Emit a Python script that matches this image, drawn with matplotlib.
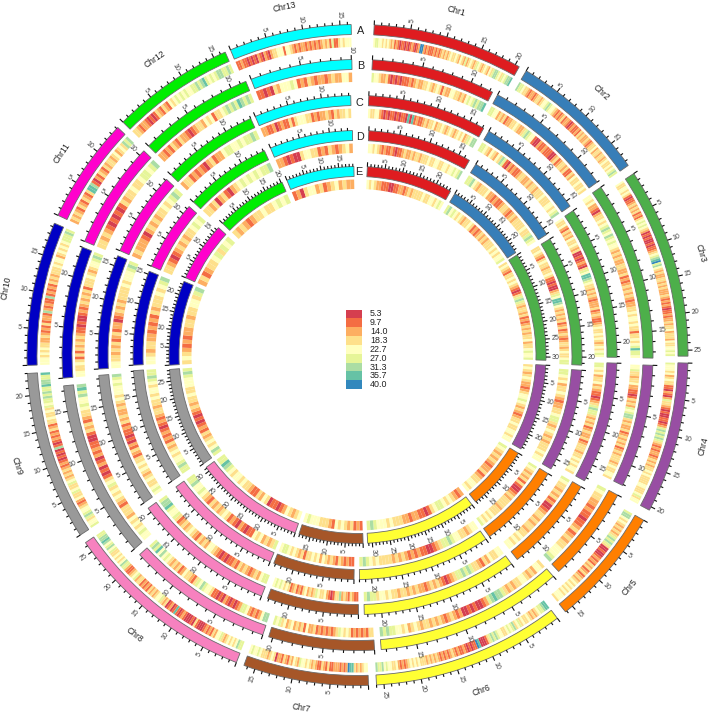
import numpy as np
import matplotlib
matplotlib.use('Agg')
import matplotlib.pyplot as plt
from matplotlib.patches import Rectangle

plt.rcParams['font.family'] = ['Liberation Sans', 'DejaVu Sans']

W, H = 709, 714
CX, CY = 357.5, 355.0
RMAX = 355.0

chroms = ['Chr1', 'Chr2', 'Chr3', 'Chr4', 'Chr5', 'Chr6', 'Chr7', 'Chr8', 'Chr9', 'Chr10', 'Chr11', 'Chr12', 'Chr13']
chrom_colors = ['#df1c20', '#377eb8', '#4daf4a', '#984ea3', '#ff7f00', '#ffff33', '#a65628', '#f781bf',
                '#999999', '#0000c4', '#ff00cc', '#00ee00', '#00ffff']
legend_labels = ['5.3', '9.7', '14.0', '18.3', '22.7', '27.0', '31.3', '35.7', '40.0']
heat_colors = ['#d53e4f', '#f46d43', '#fdae61', '#fee08b', '#ffffbf', '#e6f598', '#abdda4', '#66c2a5', '#3288bd']
ring_names = ['A', 'B', 'C', 'D', 'E']

# chromosome lengths in Mb, one list per ring
len_A = [20.6, 18.7, 25.8, 20.5, 16.2, 26.0, 16.5, 26.5, 23.0, 19.5, 14.2, 16.7, 16.5]
len_B = [12.3, 13.0, 17.6, 12.1, 9.9, 18.5, 10.4, 14.4, 17.5, 13.0, 10.6, 11.6, 10.05]
len_C = [17.2, 15.9, 22.1, 17.5, 13.9, 22.5, 13.2, 20.7, 19.5, 16.5, 12.2, 14.0, 14.3]
len_D = [16.9, 16.1, 21.3, 16.8, 14.0, 22.0, 13.3, 19.7, 19.1, 15.5, 11.5, 14.2, 13.8]
len_E = [24.4, 23.9, 30.9, 24.6, 18.2, 31.3, 18.2, 31.3, 28.3, 23.9, 16.8, 20.3, 19.3]

# GC bins (index into heat_colors) along each chromosome, clockwise
heat_A = ['45544343432312101101012101288212111212123232343343243252343235432343243566543545667',
          '6554332122123323445654432121231221012112132322321233423323323433434565',
          '43344343101123232312134545432010100101123456785643232233232322232121210112122323342333243344545',
          '54443423433110210253321010011012565656532121221232323343433334433345344',
          '5664343232323565653001001212132312312323434343434443',
          '7765543232343343543654543344565653100078110101211212321212123232323334343432121243344546556',
          '44323237782121222113123112323434452342312312203432333454454',
          '55643434323544231212100013010001210171021032354432323121213325432112556434343354654676655',
          '54435654432124335433543232321210101061012121321334334354556565576655 7'.replace(' ', ''),
          '44434343322321213122162121161212132323334344234343455565',
          '2323213213213776102132132332342343656',
          '33212210101321321434545454455656754545665565',
          '11211010102102102334441443212122121212123231511343444']
heat_B = ['544322310101011121232233432343132244332324545656 67'.replace(' ', ''),
          '5544232312233432235654410021121110023123323113243343343',
          '4434221023343456546545443232322332231212323232122334344343313343457554',
          '4453323342211013232545663232231232323123233323433443',
          '54332212110112312323344456',
          '344232344332323566765210010100212321232323323432434455656',
          '3312121213434532121212132241323243243545',
          '6642121245521010120101134456453123342132323454647565',
          '4454343423331234343543101021021211001323123345446576',
          '44334313132323211010012123232313334 32344565'.replace(' ', ''),
          '332321010101323343345545 6'.replace(' ', ''),
          '22121321322101233243413345656576565',
          '1101032444541213212212322442']
heat_C = ['43344210101101011070712112323342334323432343423546 6'.replace(' ', ''),
          '55432432436510212112332232332333433344345 6'.replace(' ', ''),
          '4334213232433432300101210354776543323232122231232112343343432343454',
          '554342334232110123565532323123223123332334343443',
          '543323231200123323233233434344',
          '44334231233565655321012323212232323323343443 5565'.replace(' ', ''),
          '112312326331012433453232431213213434 5454'.replace(' ', ''),
          '554232123231211010123442323123432321354457665',
          '454334323434331231201011213232232343444 5456'.replace(' ', ''),
          '443323231231220123232333343444565',
          '232221023232334345 65'.replace(' ', ''),
          '233121210231224554454556 5'.replace(' ', ''),
          '22112012113134443312122321323343']
heat_D = ['44343212112101123223233233343344334434454 56'.replace(' ', ''),
          '55643233342212112332123233334335654',
          '33432134332334311010023547764323232312312321233234334 55'.replace(' ', ''),
          '5543423343212233455323432323334344',
          '543232313100123233332333434345',
          '44323344565532100112121232323333434565',
          '1121231232342434331323434554',
          '53232434110120121343232312345446 55'.replace(' ', ''),
          '556544343231212101212332334344345655',
          '4432332212121323334 3456'.replace(' ', ''),
          '33210123232334545',
          '3323023102345454545 56'.replace(' ', ''),
          '221010034433121321234 2'.replace(' ', '')]
heat_E = ['43432211100112212323333433443454',
          '56454343233431212323233343434 45'.replace(' ', ''),
          '3432133434321013565323323121232323342334 5445'.replace(' ', ''),
          '34323432212344543232123343344344',
          '5432323212231233443 4'.replace(' ', ''),
          '212343455431011221223334344 4565'.replace(' ', ''),
          '1213234341233344454',
          '432342101103423112334344345 6755'.replace(' ', ''),
          '56434323121010123233433 4445 65'.replace(' ', ''),
          '3432121223323344 356'.replace(' ', ''),
          '231233453545',
          '323212334334545',
          '1203442312342322']

# arc start and end of every chromosome in degrees clockwise from the top
start_A = [2.9, 30.7, 56.7, 91.4, 120.0, 142.8, 178.1, 201.5, 237.0, 268.2, 295.0, 314.8, 337.4]
end_A = [29.3, 55.0, 90.2, 118.0, 141.0, 176.7, 200.1, 235.4, 266.8, 293.5, 313.5, 336.4, 358.9]
start_B = [2.9, 28.3, 55.4, 92.0, 118.3, 138.5, 176.7, 198.7, 229.0, 265.5, 292.6, 315.0, 338.9]
end_B = [27.2, 54.2, 90.6, 116.2, 137.1, 175.4, 197.5, 227.5, 264.0, 291.4, 313.7, 337.8, 358.9]
start_C = [2.5, 30.4, 56.2, 91.8, 120.5, 143.6, 179.8, 201.7, 235.3, 266.9, 293.7, 314.0, 336.8]
end_C = [29.1, 55.0, 90.5, 119.0, 142.0, 178.5, 200.3, 233.8, 265.5, 292.5, 312.6, 335.7, 358.5]
start_D = [2.9, 31.8, 58.9, 93.9, 121.9, 145.1, 180.9, 202.9, 235.8, 267.4, 293.3, 313.0, 337.2]
end_D = [29.9, 57.5, 92.6, 120.5, 144.0, 179.5, 201.9, 234.0, 266.0, 291.9, 311.4, 335.5, 358.7]
start_E = [3.0, 31.1, 57.9, 93.1, 121.4, 142.6, 178.3, 199.3, 234.8, 266.9, 294.2, 314.3, 338.0]
end_E = [29.6, 57.1, 91.6, 119.9, 141.2, 176.9, 198.1, 233.4, 265.6, 293.0, 312.5, 336.4, 358.9]

rings = [(330.5, len_A, heat_A, start_A, end_A),
         (295.5, len_B, heat_B, start_B, end_B),
         (259.5, len_C, heat_C, start_C, end_C),
         (224.5, len_D, heat_D, start_D, end_D),
         (188.5, len_E, heat_E, start_E, end_E)]

fig = plt.figure(figsize=(W / 100, H / 100), dpi=100)
ax = fig.add_axes([(CX - RMAX) / W, (H - CY - RMAX) / H, 2 * RMAX / W, 2 * RMAX / H], projection='polar')
ax.set_theta_zero_location('N')
ax.set_theta_direction(-1)
ax.set_ylim(0, RMAX)
ax.axis('off')


def radial_rot(deg):
    # tick labels run along the radius and stay upright
    return 90 - deg if deg < 180 else 270 - deg


def tangent_rot(deg):
    return -deg if deg < 90 or deg > 270 else 180 - deg


for r_out, lens, heat, starts, ends in rings:
    for i in range(len(chroms)):
        t0, t1 = np.radians(starts[i]), np.radians(ends[i])
        # chromosome band
        ax.bar(t0, 10, width=t1 - t0, bottom=r_out - 10, align='edge', color=chrom_colors[i],
               edgecolor='#6a6a6a', linewidth=0.6)

        # heat strip
        vals = [int(c) for c in heat[i]]
        edges = np.linspace(t0, t1, len(vals) + 1)
        ax.bar(edges[:-1], 9.5, width=np.diff(edges), bottom=r_out - 22.5, align='edge',
               color=[heat_colors[v] for v in vals], linewidth=0)

        # ticks, one per Mb, longer and labelled every 5
        for mb in range(int(lens[i]) + 1):
            t = t0 + (t1 - t0) * mb / lens[i]
            major = mb % 5 == 0
            ax.plot([t, t], [r_out, r_out + (4.5 if major else 2.8)], color='#111111', lw=0.8,
                    solid_capstyle='butt')
            if major and mb > 0:
                deg = np.degrees(t)
                ax.text(t, r_out + 6, str(mb), rotation=radial_rot(deg), rotation_mode='anchor',
                        ha='left' if deg < 180 else 'right', va='center', fontsize=5, color='#444444')

# chromosome names outside ring A
for i in range(len(chroms)):
    mid = (start_A[i] + end_A[i]) / 2
    ax.text(np.radians(mid), 355.5 if chroms[i] == 'Chr13' else 358, chroms[i], rotation=tangent_rot(mid),
            rotation_mode='anchor', ha='center', va='center', fontsize=6.2, color='#222222', clip_on=False)

# overlay in pixel coordinates for the legend and ring letters
ov = fig.add_axes([0, 0, 1, 1])
ov.set_xlim(0, W)
ov.set_ylim(H, 0)
ov.axis('off')
ov.patch.set_alpha(0)

for i, lab in enumerate(legend_labels):
    y = 309.5 + i * 8.85
    ov.add_patch(Rectangle((345.7, y), 16.3, 8.85, facecolor=heat_colors[i], edgecolor='none'))
    ov.text(370, y + 4.4, lab, ha='left', va='center', fontsize=6.4, color='#222222')

letter_x = [361, 361, 359.5, 360, 359]
letter_y = [31, 66, 103, 137, 172]
for x, y, name in zip(letter_x, letter_y, ring_names):
    ov.text(x, y, name, ha='center', va='center', fontsize=7.8, color='#222222')

fig.savefig('out.png', dpi=100, facecolor='white')
